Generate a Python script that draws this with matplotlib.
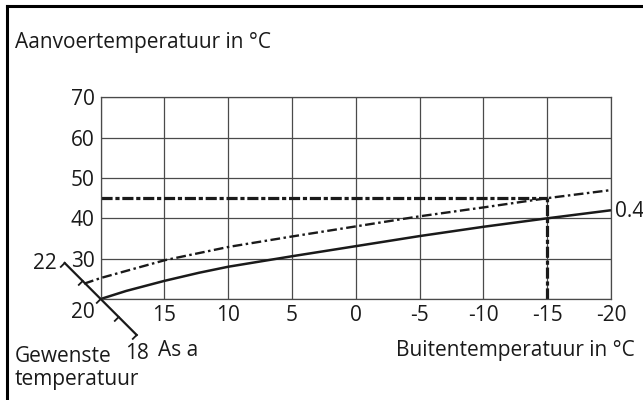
import matplotlib
matplotlib.use('Agg')
import matplotlib.pyplot as plt
from matplotlib.lines import Line2D
from matplotlib.transforms import Affine2D

plt.rcParams['font.family'] = ['Open Sans', 'DejaVu Sans']
plt.rcParams['lines.scale_dashes'] = False
FS = 15

# outside temperature (x axis, reversed) and flow temperature curves
x_grid = [20, 15, 10, 5, 0, -5, -10, -15, -20]
y_grid = [20, 30, 40, 50, 60, 70]

curve_x = [20, 18, 15, 12.3, 10, 5, 0, -5, -10, -15, -20]
curve_04 = [20, 22.0, 24.5, 26.5, 28.0, 30.6, 33.1, 35.6, 37.9, 40.0, 42.0]

shift_x = [21.3, 20, 15, 10, 5, 0, -5, -10, -15, -20]
shift_y = [23.8, 25.2, 29.6, 32.9, 35.5, 38.0, 40.5, 42.7, 45.0, 47.0]

design_out = -15
design_flow = 45

# desired room temperature axis (diagonal)
room = [22, 21, 20, 19, 18]
room_labels = {22: '22', 20: '20', 18: '18'}

W, H = 643, 400
fig = plt.figure(figsize=(W / 100, H / 100), dpi=100)
ax = fig.add_axes([100.7 / W, 1 - 299 / H, (611 - 100.7) / W, (299 - 97.3) / H])
ax.set_xlim(20, -20)
ax.set_ylim(20, 70)

grid_c = '#4a4a4a'
ax.set_xticks(x_grid, labels=[''] + [str(v) for v in x_grid[1:]])
ax.set_yticks(y_grid, labels=[''] + [str(v) for v in y_grid[1:]])
ax.grid(True, color=grid_c, lw=0.9)
for s in ax.spines.values():
    s.set_color(grid_c)
    s.set_linewidth(0.9)
ax.tick_params(length=0, labelsize=FS, colors='#1a1a1a')
ax.tick_params(axis='x', pad=4)
ax.tick_params(axis='y', pad=4.5)

ink = '#1a1a1a'
ax.plot(curve_x, curve_04, color=ink, lw=1.8, solid_capstyle='butt', clip_on=False)
ax.plot(shift_x, shift_y, color=ink, lw=1.7, dashes=(7, 2.5, 1.8, 2.5), clip_on=False)

# design point lines
ax.plot([20, design_out], [design_flow, design_flow], color=ink, lw=2.3,
        dashes=(8, 2, 3, 2))
ax.plot([design_out, design_out], [20, design_flow], color=ink, lw=2.3,
        dashes=(8, 2, 3, 2))

# diagonal room temperature axis, drawn in pixels from the data origin
ox, oy = ax.transData.transform((20, 20))
step = 18.0
diag = Affine2D().scale(step).translate(ox, oy)
du = [20 - t for t in room]
dv = [t - 20 for t in room]
fig.add_artist(Line2D([du[0], du[-1]], [dv[0], dv[-1]], transform=diag,
                      color=ink, lw=1.6))
tick = 5.5 / (step * 2 ** 0.5)
for u, v in zip(du, dv):
    fig.add_artist(Line2D([u, u - tick], [v, v - tick], transform=diag,
                          color=ink, lw=1.3))

# frame
fig.add_artist(Line2D([7.3 / W, 7.3 / W], [0, 1 - 5.7 / H], transform=fig.transFigure,
                      color='black', lw=2.2, solid_capstyle='projecting'))
fig.add_artist(Line2D([7.3 / W, 1], [1 - 5.7 / H, 1 - 5.7 / H], transform=fig.transFigure,
                      color='black', lw=2.2, solid_capstyle='projecting'))


def put(px, py, s, ha='left', va='baseline'):
    fig.text(px / W, 1 - py / H, s, ha=ha, va=va, fontsize=FS, color=ink)


put(15, 47.7, 'Aanvoertemperatuur in °C')
put(635, 356, 'Buitentemperatuur in °C', ha='right')
put(615, 217, '0.4')
put(57, 269.3, room_labels[22], ha='right')
put(95, 318.3, room_labels[20], ha='right')
put(125, 359.3, room_labels[18])
put(158.3, 356, 'As a')
put(15, 361.5, 'Gewenste')
put(15, 385, 'temperatuur')

fig.savefig('out.png', dpi=100)
